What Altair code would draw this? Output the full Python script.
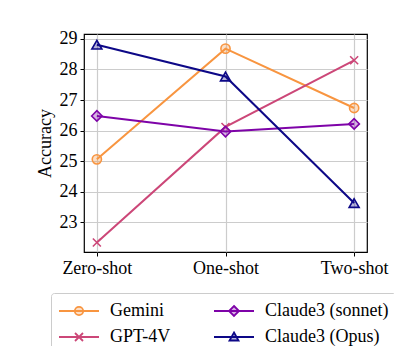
import altair as alt
import pandas as pd

settings = ["Zero-shot", "One-shot", "Two-shot"]
models = ["Gemini", "GPT-4V", "Claude3 (sonnet)", "Claude3 (Opus)"]
gemini = [25.06, 28.68, 26.74]
gpt4v = [22.34, 26.12, 28.30]
sonnet = [26.48, 25.97, 26.22]
opus = [28.81, 27.77, 23.63]
line_colors = ["#f89540", "#cc4778", "#7e03a8", "#0d0887"]
light_colors = ["#fddfc6", "#f0c8d6", "#d8b3e5", "#b6b5db"]

rows = []
for m, vals in zip(models, [gemini, gpt4v, sonnet, opus]):
    for i, (s, v) in enumerate(zip(settings, vals)):
        rows.append({"model": m, "idx": i, "setting": s, "acc": v})
df = pd.DataFrame(rows)

plot_shapes = ["circle", "M-1,-1L1,1M-1,1L1,-1", "diamond", "triangle-up"]
plot_sizes = [85, 64, 110, 100]

line = "M-1,0L3,0"
leg_paths = [
    line + "M0.58,0A0.42,0.42 0 1,0 1.42,0A0.42,0.42 0 1,0 0.58,0Z",
    line + "M0.6,-0.4L1.4,0.4M0.6,0.4L1.4,-0.4",
    line + "M1,-0.5L1.5,0L1,0.5L0.5,0Z",
    line + "M1,-0.45L1.45,0.35L0.55,0.35Z",
]

FONT = "Liberation Serif"

x = alt.X("idx:Q", scale=alt.Scale(domain=[-0.1, 2.1], nice=False, zero=False),
          axis=alt.Axis(values=[0, 1, 2], title=None,
                        labelExpr="['Zero-shot','One-shot','Two-shot'][datum.value]",
                        grid=True))
y = alt.Y("acc:Q", scale=alt.Scale(domain=[22.03, 29.16], nice=False, zero=False),
          axis=alt.Axis(values=[23, 24, 25, 26, 27, 28, 29], title="Accuracy",
                        grid=True, titlePadding=5))

col_scale = alt.Scale(domain=models, range=line_colors)
legend = alt.Legend(
    title=None, orient="none", legendX=-33, legendY=259,
    columns=2, columnPadding=39, rowPadding=6,
    symbolSize=400, labelOffset=30, padding=7,
    strokeColor="#cccccc", cornerRadius=3, fillColor="white",
    labelFont=FONT, labelFontSize=18, labelLimit=300,
    symbolStrokeWidth=1.8, symbolOpacity=1,
)

base = alt.Chart(df)
lines = base.mark_line(strokeWidth=2).encode(
    x=x, y=y, stroke=alt.Stroke("model:N", scale=col_scale),
    detail="model:N")

point_layers = []
for m, shp, sz, c in zip(models, plot_shapes, plot_sizes, line_colors):
    point_layers.append(
        base.transform_filter(alt.datum.model == m).mark_point(
            shape=shp, size=sz, strokeWidth=1.6, fill=c,
            fillOpacity=0.3, opacity=1,
        ).encode(
            x=x, y=y,
            stroke=alt.Stroke("model:N", scale=col_scale),
        )
    )

legend_layer = base.mark_point(
    size=400, strokeWidth=1.8, opacity=0).encode(
    x=x, y=y,
    stroke=alt.Stroke("model:N", scale=col_scale, legend=legend),
    fill=alt.Fill("model:N", scale=alt.Scale(domain=models, range=light_colors),
                  legend=legend),
    shape=alt.Shape("model:N", scale=alt.Scale(domain=models, range=leg_paths),
                    legend=legend),
)

chart = alt.layer(legend_layer, lines, *point_layers).properties(
    width=283, height=218,
    autosize=alt.AutoSizeParams(type="none"),
    padding={"left": 76, "top": 26, "right": 27, "bottom": 94},
).configure_view(stroke="black", strokeWidth=1.2).configure_axis(
    labelFont=FONT, titleFont=FONT, labelFontSize=18, titleFontSize=18,
    titleFontWeight="normal", labelColor="black", titleColor="black",
    gridColor="#cccccc", gridWidth=1.2, tickColor="black", tickSize=4,
    domain=False, labelPadding=3,
)

chart.save("out.html", embed_options={"renderer": "svg", "actions": False})
